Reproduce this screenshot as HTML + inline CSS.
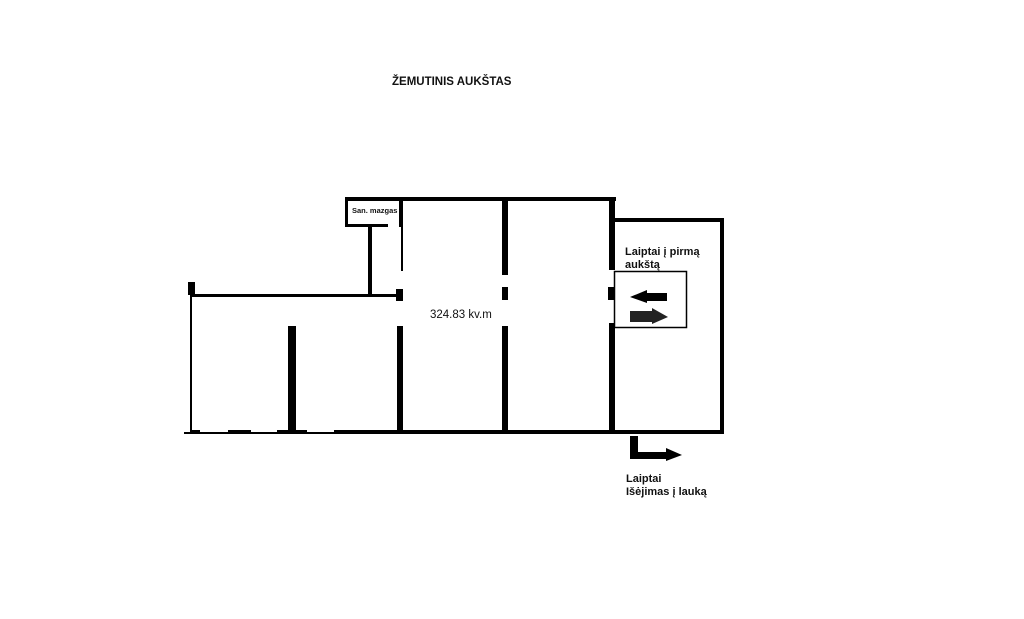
<!DOCTYPE html>
<html><head><meta charset="utf-8"><style>
body{margin:0;background:#fff;width:1024px;height:619px;overflow:hidden}
svg{display:block}
text{font-family:"Liberation Sans",sans-serif;font-weight:bold;fill:#111}
</style></head><body>
<svg width="1024" height="619" viewBox="0 0 1024 619">
<g fill="#000">
<rect x="345" y="197" width="271" height="4"/>
<rect x="345" y="197" width="3" height="30"/>
<rect x="345" y="224" width="43" height="3"/>
<rect x="399" y="201" width="4" height="26"/>
<rect x="368" y="226" width="4" height="70"/>
<rect x="401" y="227" width="2" height="44"/>
<rect x="396" y="289" width="7" height="12"/>
<rect x="190" y="294" width="210" height="3"/>
<rect x="188" y="282" width="7" height="13"/>
<rect x="190" y="296" width="2" height="137"/>
<rect x="184" y="432" width="152" height="2"/>
<rect x="190" y="430" width="10" height="3"/>
<rect x="228" y="430" width="23" height="3"/>
<rect x="277" y="430" width="30" height="3"/>
<rect x="334" y="430" width="390" height="4"/>
<rect x="288" y="326" width="8" height="106"/>
<rect x="397" y="326" width="6" height="106"/>
<rect x="502" y="200" width="6" height="75"/>
<rect x="502" y="287" width="6" height="13"/>
<rect x="502" y="326" width="6" height="106"/>
<rect x="609" y="200" width="6" height="70"/>
<rect x="608" y="287" width="6" height="13"/>
<rect x="609" y="323" width="6" height="110"/>
<rect x="612" y="218" width="112" height="4"/>
<rect x="720" y="218" width="4" height="216"/>
<rect x="612" y="430" width="16" height="4"/>
<rect x="645" y="430" width="79" height="4"/>
<rect x="630" y="436" width="8" height="22"/>
<rect x="630" y="452" width="38" height="7"/>
<polygon points="666,448 682,455 666,461"/>
<polygon points="667,293 647,293 647,290 630,297 647,303 647,301 667,301"/>
<polygon points="630,311 652,311 652,308 668,317 652,324 652,322 630,322" fill="#222"/>
</g>
<rect x="614.5" y="271.5" width="72" height="56" fill="none" stroke="#000" stroke-width="1.5"/>
<text x="392" y="85" font-size="11.5">ŽEMUTINIS AUKŠTAS</text>
<text x="352" y="213" font-size="7.5">San. mazgas</text>
<text x="430" y="318" font-size="11.5" style="font-weight:normal">324.83 kv.m</text>
<text x="625" y="255" font-size="11">Laiptai į pirmą</text>
<text x="625" y="268" font-size="11">aukštą</text>
<text x="626" y="482" font-size="11">Laiptai</text>
<text x="626" y="495" font-size="11">Išėjimas į lauką</text>
</svg>
</body></html>
